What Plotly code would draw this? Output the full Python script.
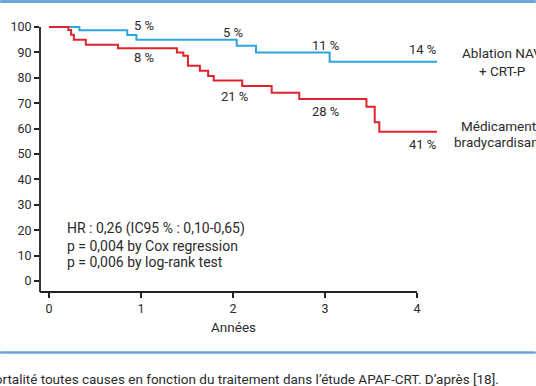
import plotly.graph_objects as go

# Kaplan-Meier survival data (years, % survival)
blue_name = "Ablation NAV + CRT-P"
blue_t = [0, 0.33, 0.85, 0.95, 2.04, 2.25, 3.05, 4.22]
blue_s = [100, 98.7, 96.9, 95, 92.6, 90, 86.3, 86.3]

red_name = "Médicaments bradycardisants"
red_t = [0, 0.21, 0.24, 0.27, 0.40, 0.75, 1.39, 1.46, 1.51, 1.64, 1.73, 1.79,
         2.10, 2.42, 2.72, 3.45, 3.54, 3.59, 4.22]
red_s = [100, 98.8, 97, 95, 93, 91.6, 90, 88.7, 84.8, 82.8, 80.7, 78.9,
         76.8, 74.1, 71.7, 68.6, 62.5, 58.8, 58.8]

x_ticks = [0, 1, 2, 3, 4]
y_ticks = [0, 10, 20, 30, 40, 50, 60, 70, 80, 90, 100]

# mortality labels: (text, x, y)
blue_labels = [("5 %", 1.03, 100.5), ("5 %", 2.0, 97.9), ("11 %", 3.01, 92.9), ("14 %", 4.06, 91.2)]
red_labels = [("8 %", 1.03, 87.9), ("21 %", 2.02, 72.6), ("28 %", 3.01, 66.9), ("41 %", 4.06, 53.9)]

stats_lines = ["HR : 0,26 (IC95 % : 0,10-0,65)",
               "p = 0,004 by Cox regression",
               "p = 0,006 by log-rank test"]

caption = "Mortalité toutes causes en fonction du traitement dans l’étude APAF-CRT. D’après [18]."

BLUE = "#2ca5de"
RED = "#e1222c"
RULE = "#6aa3d6"
TXT = "#2b2b2b"
FONT = "Roboto"
W, H = 536, 386

fig = go.Figure()
fig.add_trace(go.Scatter(x=blue_t, y=blue_s, mode="lines", line_shape="hv",
                         line=dict(color=BLUE, width=2), name=blue_name))
fig.add_trace(go.Scatter(x=red_t, y=red_s, mode="lines", line_shape="hv",
                         line=dict(color=RED, width=2), name=red_name))

XR = [-0.098, 4.217]
YR = [-4.33, 100.8]

def fnt(s):
    return dict(size=s, color=TXT, family=FONT)

def px(x):
    return x / W

def py(y):
    return (H - y) / H

annotations = []
for txt, x, y in blue_labels + red_labels:
    annotations.append(dict(text=txt, x=x, y=y, xref="x", yref="y", showarrow=False,
                            xanchor="center", yanchor="middle", font=fnt(13)))
for i, line in enumerate(stats_lines):
    annotations.append(dict(text=line, x=0.17, y=[20.5, 13.9, 7.5][i], xref="x", yref="y",
                            xanchor="left", yanchor="middle", showarrow=False, font=fnt(14)))
for txt, y in [("Ablation NAV", 53.3), ("+ CRT-P", 71), ("Médicaments", 126), ("bradycardisants", 141.7)]:
    annotations.append(dict(text=txt, x=px(502), y=py(y), xref="paper", yref="paper", showarrow=False,
                            xanchor="center", yanchor="middle", font=fnt(13.5)))
annotations.append(dict(text="Années", x=px(233), y=py(327), xref="paper", yref="paper",
                        xanchor="center", yanchor="middle", showarrow=False, font=fnt(13.5)))
annotations.append(dict(text=caption, x=px(501), y=py(379), xref="paper", yref="paper", xanchor="right",
                        yanchor="middle", showarrow=False, font=fnt(13.5)))

# page frame rules (decorative) drawn as head-less annotation arrows
for ypix, wd in [(1.5, 2.5), (352.6, 2)]:
    annotations.append(dict(text=" ", x=0, y=py(ypix), xref="paper", yref="paper",
                            showarrow=True, arrowhead=0, arrowwidth=wd, arrowcolor=RULE,
                            ax=W + 30, ay=0, standoff=0, startstandoff=0,
                            font=dict(size=4, color="white")))

shapes = [
    # axis lines
    dict(type="line", xref="x", yref="paper", x0=XR[0], x1=4, y0=py(292), y1=py(292),
         line=dict(color="#222", width=1.8)),
    dict(type="line", xref="paper", yref="y", x0=px(40), x1=px(40), y0=YR[0], y1=100,
         line=dict(color="#222", width=1.8)),
    # frame rules
    dict(type="line", xref="paper", yref="paper", x0=0, x1=1, y0=py(1.5), y1=py(1.5),
         line=dict(color=RULE, width=2.5)),
    dict(type="line", xref="paper", yref="paper", x0=0, x1=1, y0=py(352.6), y1=py(352.6),
         line=dict(color=RULE, width=2)),
]

fig.update_layout(
    width=W, height=H,
    margin=dict(l=0, r=0, t=0, b=0),
    paper_bgcolor="white", plot_bgcolor="white",
    showlegend=False,
    font=dict(family=FONT, size=12.5, color=TXT),
    xaxis=dict(domain=[px(40), px(437)], range=XR, tickvals=x_ticks, ticks="outside",
               ticklen=5, tickwidth=1.5, tickcolor="#222", showline=False, showgrid=False,
               zeroline=False, automargin=False, tickfont=fnt(12.5)),
    yaxis=dict(domain=[py(292), py(25)], range=YR, tickvals=y_ticks, ticks="outside",
               ticklen=5, tickwidth=1.5, tickcolor="#222", showline=False, showgrid=False,
               zeroline=False, automargin=False, tickfont=fnt(12.5)),
    annotations=annotations,
    shapes=shapes,
)

fig.write_html("out.html", config={"displayModeBar": False},
               post_script="document.body.style.margin='0';")
